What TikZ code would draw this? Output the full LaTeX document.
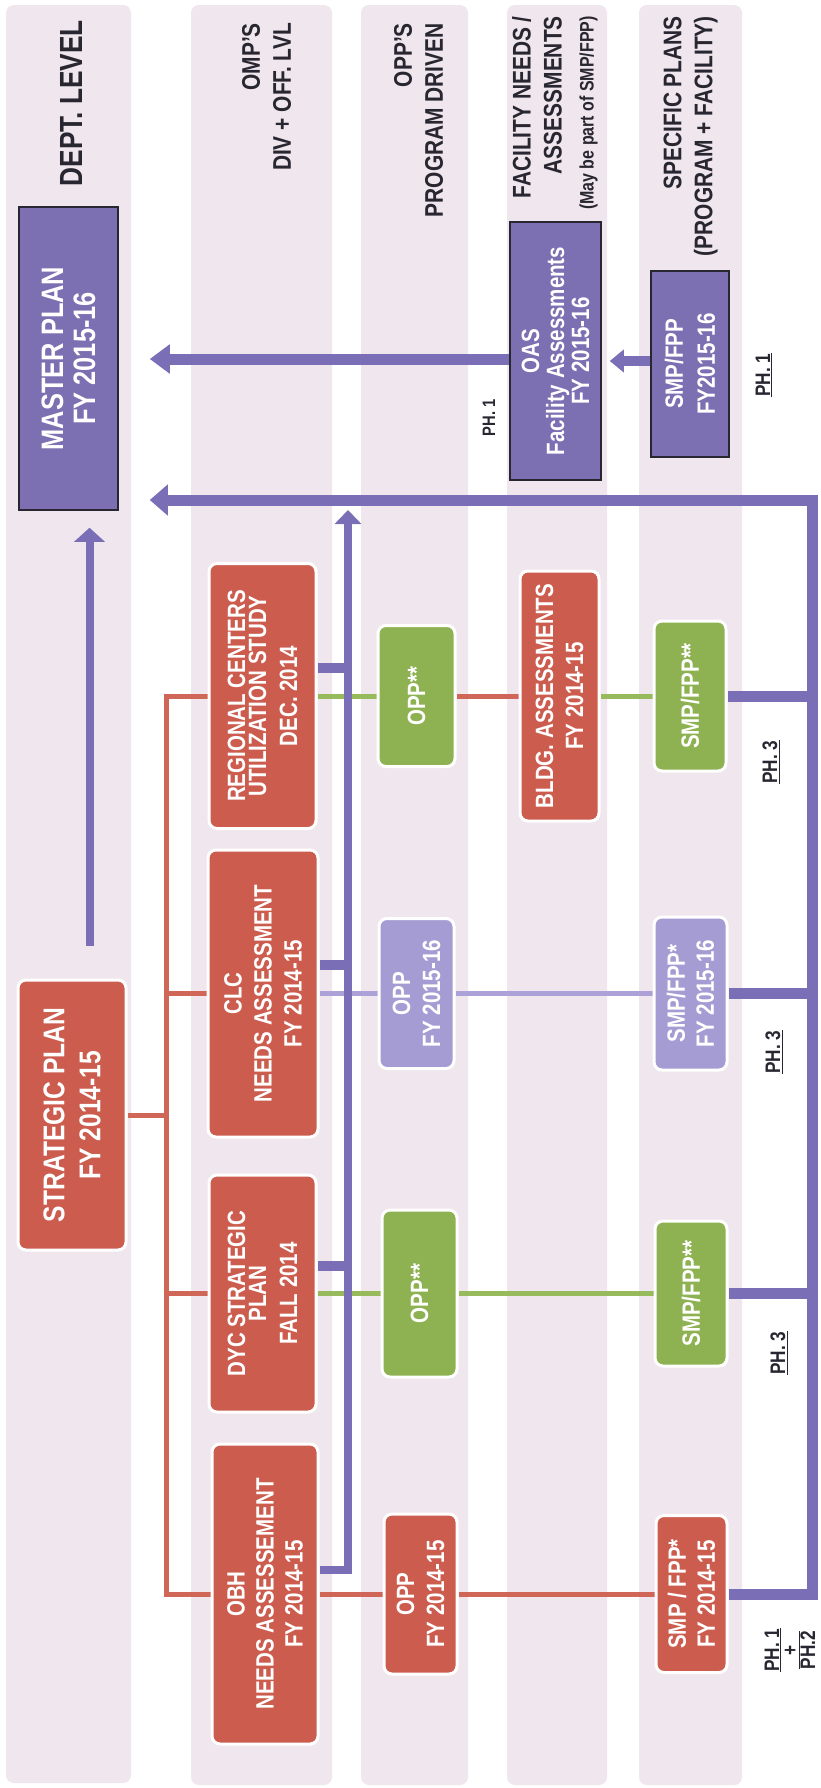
\documentclass[tikz,border=0pt]{standalone}
\usepackage{fontspec}
\newfontfamily\nf{Liberation Sans}[FakeStretch=0.82]
\usetikzlibrary{arrows.meta}
\definecolor{lane}{RGB}{240,230,237}
\definecolor{rbox}{RGB}{204,92,78}
\definecolor{gbox}{RGB}{142,178,82}
\definecolor{lpbox}{RGB}{166,156,212}
\definecolor{pbox}{RGB}{124,111,178}
\definecolor{pline}{RGB}{122,110,182}
\definecolor{rline}{RGB}{208,102,88}
\definecolor{gline}{RGB}{150,186,92}
\definecolor{lpline}{RGB}{172,162,216}
\definecolor{dark}{RGB}{40,38,48}
\pgfdeclarelayer{bg}\pgfdeclarelayer{lines}\pgfsetlayers{bg,lines,main}
\tikzset{
  lanebg/.style={fill=lane, rounded corners=8pt},
  rbx/.style={rotate=90, fill=rbox, draw=white, line width=3pt, rounded corners=8pt, inner sep=0pt, align=center, text=white, font=\nf\bfseries\fontsize{25}{21}\selectfont},
  gbx/.style={rbx, fill=gbox},
  lpbx/.style={rbx, fill=lpbox},
  pbx/.style={rotate=90, fill=pbox, draw=dark, line width=1.5pt, inner sep=0pt, align=center, text=white, font=\nf\bfseries\fontsize{25}{25}\selectfont},
  hdr/.style={rotate=90, anchor=east, align=right, inner sep=0pt, text=dark, font=\nf\bfseries\fontsize{25.5}{31}\selectfont},
  phl/.style={rotate=90, inner sep=0pt, align=center, text=dark, font=\nf\bfseries\fontsize{21}{24}\selectfont},
  redln/.style={draw=rline, line width=5pt},
  grnln/.style={draw=gline, line width=5pt},
  lpln/.style={draw=lpline, line width=5pt},
  pstub/.style={draw=pline, line width=10pt},
  pvert/.style={draw=pline, line width=8pt, line join=miter, -{Triangle[width=26pt,length=14pt]}},
  bigp/.style={draw=pline, line width=11pt, line join=miter},
  parrow/.style={draw=pline, line width=11pt, -{Triangle[width=28pt,length=20pt]}},
}
\begin{document}
\begin{tikzpicture}[x=1pt,y=-1pt]
\useasboundingbox (0,0) rectangle (820,1788);
\begin{pgfonlayer}{bg}
\fill[white] (0,0) rectangle (820,1788);
\fill[lanebg] (6,5) rectangle (131,1783);
\fill[lanebg] (191,5) rectangle (332,1785);
\fill[lanebg] (361,5) rectangle (468,1785);
\fill[lanebg] (507,5) rectangle (607,1785);
\fill[lanebg] (639,5) rectangle (742,1785);
\end{pgfonlayer}

% headers
\node[hdr, font=\nf\bfseries\fontsize{32}{36}\selectfont] (h1) at (71,20) {DEPT. LEVEL};
\node[hdr] (h2) at (266.5,23) {OMP’S\\DIV + OFF. LVL};
\node[hdr] (h3) at (418.5,23) {OPP’S\\PROGRAM DRIVEN};
\node[hdr] (h4) at (555,16) {FACILITY NEEDS /\\ASSESSMENTS\\[1pt]\fontsize{19.5}{24}\selectfont(May be part of SMP/FPP)};
\node[hdr] (h5) at (690.5,16) {SPECIFIC PLANS\\(PROGRAM + FACILITY)};

% purple boxes
\node[pbx, minimum width=303pt, minimum height=99pt, font=\nf\bfseries\fontsize{31}{32}\selectfont] (mp) at (68.5,358.5) {MASTER PLAN\\FY 2015-16};
\node[pbx, minimum width=258pt, minimum height=91pt] (oas) at (555.5,351) {OAS\\Facility Assessments\\FY 2015-16};
\node[pbx, minimum width=186pt, minimum height=78pt] (smpt) at (690,364) {SMP/FPP\\[7pt]FY2015-16};

% strategic plan
\node[rbx, minimum width=270pt, minimum height=108pt, font=\nf\bfseries\fontsize{30}{36}\selectfont] (sp) at (72,1115) {STRATEGIC PLAN\\FY 2014-15};

% lane 2
\node[rbx, minimum width=265pt, minimum height=107pt] (reg) at (262.5,696) {REGIONAL CENTERS\\UTILIZATION STUDY\\[10pt]DEC. 2014};
\node[rbx, minimum width=287pt, minimum height=110pt] (clc) at (263,993.5) {CLC\\[9pt]NEEDS ASSESSMENT\\[9pt]FY 2014-15};
\node[rbx, minimum width=237pt, minimum height=107pt] (dyc) at (262.5,1293.5) {DYC STRATEGIC\\PLAN\\[10pt]FALL 2014};
\node[rbx, minimum width=300pt, minimum height=106pt] (obh) at (265,1594) {OBH\\[8pt]NEEDS ASSESSEMENT\\[8pt]FY 2014-15};

% lane 3
\node[gbx, minimum width=141pt, minimum height=77pt] (opp1) at (416.5,696) {OPP**};
\node[lpbx, minimum width=150pt, minimum height=75pt] (opp2) at (416.5,993.5) {OPP\\[9pt]FY 2015-16};
\node[gbx, minimum width=167pt, minimum height=75pt] (opp3) at (419.5,1293.5) {OPP**};
\node[rbx, minimum width=160pt, minimum height=73pt] (opp4) at (420.5,1594) {OPP\\[9pt]FY 2014-15};

% lane 4
\node[rbx, minimum width=250pt, minimum height=79pt] (bldg) at (559.5,696) {BLDG. ASSESSMENTS\\[9pt]FY 2014-15};

% lane 5
\node[gbx, minimum width=150pt, minimum height=72pt] (smp1) at (690,696) {SMP/FPP**};
\node[lpbx, minimum width=153pt, minimum height=73pt] (smp2) at (690.5,993.5) {SMP/FPP*\\[8pt]FY 2015-16};
\node[gbx, minimum width=145pt, minimum height=72pt] (smp3) at (691,1293.5) {SMP/FPP**};
\node[rbx, minimum width=157pt, minimum height=71pt] (smp4) at (691.5,1594) {SMP / FPP*\\[8pt]FY 2014-15};

% phase labels
\node[phl, font=\nf\bfseries\fontsize{18}{20}\selectfont] (ph0) at (489,418) {PH. 1};
\node[phl] (ph1) at (764,375) {\underline{PH. 1}};
\node[phl] (ph3a) at (771,762) {\underline{PH. 3}};
\node[phl] (ph3b) at (774,1052) {\underline{PH. 3}};
\node[phl] (ph3c) at (779,1353) {\underline{PH. 3}};
\node[phl, font=\nf\bfseries\fontsize{21}{18}\selectfont] (ph12) at (790,1650) {\underline{PH. 1}\\+\\$\overline{\mbox{PH.2}}$};

\coordinate (tr) at (166,0);
\coordinate (vt) at (348,510);
\coordinate (fbr) at (812,500);

\begin{pgfonlayer}{lines}
% red tree
\draw[redln] (reg.north) -- (reg.north -| tr) -- (obh.north -| tr) -- (obh.north);
\draw[redln] (clc.north) -- (clc.north -| tr);
\draw[redln] (dyc.north) -- (dyc.north -| tr);
\draw[redln] (sp.south) -- (sp.south -| tr);
% rows
\draw[grnln] (reg.south) -- (opp1.north);
\draw[redln] (opp1.south) -- (bldg.north);
\draw[grnln] (bldg.south) -- (smp1.north);
\draw[lpln] (clc.south) -- (opp2.north);
\draw[lpln] (opp2.south) -- (smp2.north);
\draw[grnln] (dyc.south) -- (opp3.north);
\draw[grnln] (opp3.south) -- (smp3.north);
\draw[redln] (obh.south) -- (opp4.north);
\draw[redln] (opp4.south) -- (smp4.north);
% stubs to OMP collector
\draw[pstub] ([yshift=28pt]reg.south) -- ([yshift=28pt]reg.south -| vt);
\draw[pstub] ([yshift=29pt]clc.south) -- ([yshift=29pt]clc.south -| vt);
\draw[pstub] ([yshift=28pt]dyc.south) -- ([yshift=28pt]dyc.south -| vt);
\draw[pvert] ([yshift=24pt]obh.south) -| (vt);
% feedback from specific plans
\draw[bigp] (smp1.south) -- (smp1.south -| fbr);
\draw[bigp] (smp2.south) -- (smp2.south -| fbr);
\draw[bigp] (smp3.south) -- (smp3.south -| fbr);
\draw[bigp, -{Triangle[width=30pt,length=18pt]}, shorten >=31pt] (smp4.south) -| (fbr) -- (fbr -| mp.south);
% OAS to master plan
\draw[parrow, shorten >=31pt] ([yshift=-8pt]oas.north) -- ([yshift=-8pt]oas.north -| mp.south);
\draw[draw=pline, line width=10pt, -{Triangle[width=22pt,length=14pt]}, shorten >=8pt] ([yshift=3pt]smpt.north) -- ([yshift=3pt]smpt.north -| oas.south);
% strategic plan to master plan
\draw[draw=pline, line width=8pt, -{Triangle[width=30pt,length=14pt]}, shorten <=33pt, shorten >=17pt] ([xshift=17.5pt]sp.east) -- ([xshift=17.5pt]sp.east |- mp.west);
\end{pgfonlayer}
\end{tikzpicture}
\end{document}
